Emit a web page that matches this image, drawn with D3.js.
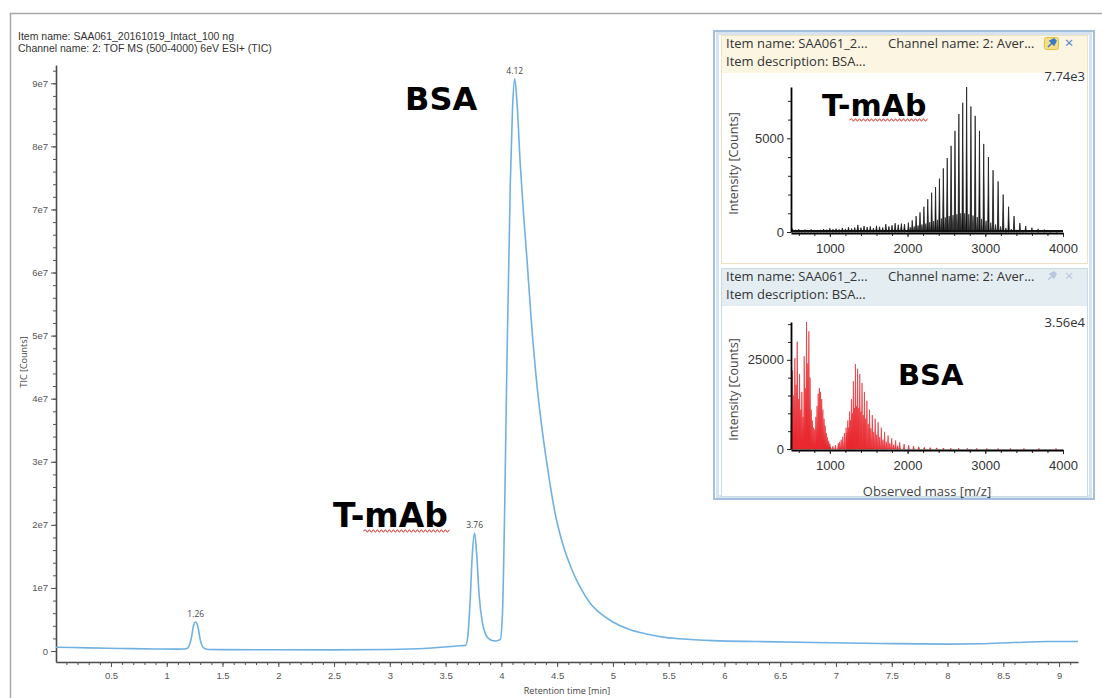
<!DOCTYPE html>
<html>
<head>
<meta charset="utf-8">
<script src="https://cdn.jsdelivr.net/npm/d3@7"></script>
<style>
  body { margin: 0; background: #fff; }
  svg { display: block; font-family: "Open Sans", "Noto Sans", sans-serif; }
</style>
</head>
<body>
<div id="chart"></div>
<script>
// ---- TIC chromatogram ----
var ticTime = [0.007, 0.3, 0.6, 0.9, 1.1, 1.16, 1.19, 1.22, 1.24, 1.26, 1.28, 1.30, 1.33, 1.37, 1.5,
  2.0, 2.5, 3.0, 3.3, 3.6, 3.68, 3.70, 3.72, 3.74, 3.76, 3.78, 3.80, 3.83, 3.86, 3.90,
  3.95, 3.99, 4.01, 4.03, 4.05, 4.08, 4.10, 4.12, 4.14, 4.17, 4.20, 4.23, 4.27, 4.32, 4.37,
  4.41, 4.48, 4.55, 4.63, 4.71, 4.80, 4.90, 5.00, 5.15, 5.30, 5.45, 5.6, 5.9, 6.3, 6.8,
  7.4, 8.0, 8.3, 8.6, 8.9, 9.17];
var ticCounts = [6e5, 5e5, 4e5, 3.3e5, 3e5, 3.2e5, 5e5, 2e6, 4e6, 4.6e6, 3.8e6, 1.8e6, 5e5, 2.5e5, 2.2e5,
  2e5, 1.8e5, 2.5e5, 4e5, 8e5, 9e5, 2.5e6, 8e6, 1.55e7, 1.87e7, 1.5e7, 9e6, 4.5e6, 2.6e6, 1.8e6,
  1.6e6, 1.8e6, 6e6, 2.3e7, 4.6e7, 7.4e7, 8.6e7, 9.07e7, 8.7e7, 7.7e7, 6.9e7, 6.2e7, 5.2e7, 4.2e7, 3.45e7,
  2.95e7, 2.2e7, 1.7e7, 1.3e7, 1e7, 7.5e6, 5.8e6, 4.6e6, 3.4e6, 2.7e6, 2.2e6, 1.95e6, 1.65e6, 1.5e6, 1.35e6,
  1.2e6, 1.1e6, 1.15e6, 1.35e6, 1.5e6, 1.5e6];
var peakTimes = [1.26, 3.76, 4.12];
var peakLabels = ["1.26", "3.76", "4.12"];
var ticXTicks = [0.5, 1, 1.5, 2, 2.5, 3, 3.5, 4, 4.5, 5, 5.5, 6, 6.5, 7, 7.5, 8, 8.5, 9];
var ticXLabels = ["0.5", "1", "1.5", "2", "2.5", "3", "3.5", "4", "4.5", "5", "5.5", "6", "6.5", "7",
  "7.5", "8", "8.5", "9"];
var ticYTicks = [0, 1e7, 2e7, 3e7, 4e7, 5e7, 6e7, 7e7, 8e7, 9e7];
var ticYLabels = ["0", "1e7", "2e7", "3e7", "4e7", "5e7", "6e7", "7e7", "8e7", "9e7"];

// ---- T-mAb spectrum (black) ----
var tmabMz = [2010, 2060, 2110, 2160, 2210, 2260, 2310, 2360, 2410, 2460, 2510, 2560, 2610, 2660, 2710,
  2760, 2815, 2870, 2925, 2980, 3040, 3100, 3165, 3230, 3300, 3370, 3445, 3520, 3600, 3680, 3760, 3840, 3920];
var tmabInt = [500, 620, 850, 1050, 1350, 1750, 2100, 2400, 2850, 3400, 3950, 4600, 5400, 6300, 6900,
  7740, 6700, 6200, 5400, 4700, 4000, 3300, 2700, 2000, 1350, 850, 480, 320, 230, 170, 130, 100, 80];
var tmabMinorMz = [2035, 2085, 2135, 2185, 2235, 2285, 2335, 2385, 2435, 2485, 2535, 2585, 2635, 2685,
  2735, 2788, 2842, 2897, 2952, 3010, 3070, 3132, 3197, 3265, 3335, 3408, 3482];
var tmabMinorInt = [250, 300, 350, 400, 450, 520, 580, 650, 720, 780, 850, 900, 950, 1000,
  1000, 950, 880, 800, 700, 600, 500, 400, 300, 220, 160, 120, 90];
var tmabNoiseMz = [520, 560, 600, 640, 680, 720, 760, 800, 840, 880, 920, 960, 1000, 1040, 1080, 1120, 1160,
  1200, 1240, 1280, 1320, 1360, 1400, 1440, 1480, 1520, 1560, 1600, 1640, 1680, 1720, 1760, 1800, 1840,
  1880, 1920, 1960];
var tmabNoiseInt = [180, 120, 150, 90, 130, 100, 140, 110, 90, 120, 160, 130, 200, 150, 180, 140, 220,
  170, 260, 190, 240, 380, 230, 320, 260, 300, 210, 330, 280, 240, 420, 300, 360, 470, 390, 450, 420];

// ---- BSA spectrum (red) ----
var bsaLowMz = [505, 520, 535, 550, 565, 580, 595, 610, 625, 640, 655, 670, 685, 700, 715, 730, 745, 760,
  775, 790, 805, 820, 835, 850, 865, 880, 895, 910, 925, 940, 955, 970, 985, 1000];
var bsaLowInt = [12000, 22000, 15000, 25500, 18000, 30100, 14000, 21000, 11000, 16000, 9000, 26000, 17000,
  35600, 24000, 33000, 20000, 11000, 8000, 6000, 5500, 9000, 12000, 15500, 17100, 16000, 14000, 11000, 8500,
  6500, 4500, 3200, 2200, 1500];
var bsaMz = [1007, 1039, 1072, 1108, 1127, 1146, 1166, 1187, 1209, 1231, 1254, 1278, 1303, 1329, 1357,
  1385, 1414, 1445, 1477, 1511, 1546, 1583, 1621, 1662, 1704, 1749, 1796, 1846, 1899, 1955, 2014, 2077,
  2144, 2215, 2292, 2374, 2461, 2556, 2658, 2769, 2889, 3020, 3164, 3323, 3497, 3691, 3909];
var bsaInt = [600, 800, 1100, 1600, 2000, 2600, 3400, 4500, 6000, 8000, 10500, 14000, 19000, 23800, 22500,
  21000, 18500, 16000, 13500, 11000, 9500, 8500, 7500, 6000, 4800, 3800, 3000, 2400, 1900, 1400, 1100, 850,
  650, 500, 400, 320, 260, 210, 170, 140, 110, 90, 80, 70, 60, 50, 40];
var bsaMinorMz = [1220, 1243, 1266, 1290, 1316, 1343, 1371, 1400, 1430, 1461, 1494, 1528, 1565, 1602,
  1641, 1683, 1726, 1772, 1821, 1872];
var bsaMinorInt = [4500, 6000, 8000, 10000, 11500, 12000, 11500, 10500, 9500, 8500, 7000, 5800, 4800, 4000,
  3300, 2600, 2000, 1600, 1200, 900];

var mzTicks = [1000, 2000, 3000, 4000];
var mzLabels = ["1000", "2000", "3000", "4000"];

var width = 1102, height = 698;
var svg = d3.select("#chart").append("svg").attr("width", width).attr("height", height);

// outer frame of the viewer
svg.append("path")
  .attr("d", "M10.5," + height + "V13.5H" + width)
  .attr("fill", "none").attr("stroke", "#a9a9a9").attr("stroke-width", 1.5);

svg.append("text").attr("x", 18).attr("y", 39.5).attr("font-size", 10.5).attr("fill", "#333")
  .attr("font-family", "Liberation Sans, Arial, sans-serif")
  .text("Item name: SAA061_20161019_Intact_100 ng");
svg.append("text").attr("x", 18).attr("y", 51.5).attr("font-size", 10.5).attr("fill", "#333")
  .attr("font-family", "Liberation Sans, Arial, sans-serif")
  .text("Channel name: 2: TOF MS (500-4000) 6eV ESI+ (TIC)");

// ---- main chromatogram ----
var x = d3.scaleLinear().domain([0.007, 9.17]).range([56, 1078]);
var y = d3.scaleLinear().domain([-1.74e6, 9.29e7]).range([662, 65]);

// minor and major ticks each get their own group, otherwise the second call rebinds the first
function axisPair(parent, transform, minorAxis, majorAxis) {
  var gMinor = parent.append("g").attr("transform", transform).call(minorAxis);
  var gMajor = parent.append("g").attr("transform", transform).call(majorAxis);
  gMinor.select(".domain").remove();
  return [gMinor, gMajor];
}

var xAxes = axisPair(svg, "translate(0," + y.range()[0] + ")",
  d3.axisBottom(x).tickValues(d3.range(0.1, 9.15, 0.1)).tickSize(3).tickSizeOuter(0).tickFormat(""),
  d3.axisBottom(x).tickValues(ticXTicks).tickSize(5).tickSizeOuter(0).tickPadding(5)
    .tickFormat(function (d, i) { return ticXLabels[i]; }));
var yAxes = axisPair(svg, "translate(" + x.range()[0] + ",0)",
  d3.axisLeft(y).tickValues(d3.range(0, 9.25e7, 2e6)).tickSize(3).tickSizeOuter(0).tickFormat(""),
  d3.axisLeft(y).tickValues(ticYTicks).tickSize(5).tickSizeOuter(0).tickPadding(3)
    .tickFormat(function (d, i) { return ticYLabels[i]; }));
xAxes.concat(yAxes).forEach(function (g) {
  g.selectAll(".domain").attr("stroke", "#4a4a4a").attr("stroke-width", 1.6);
  g.selectAll(".tick line").attr("stroke", "#555");
  g.selectAll("text").attr("font-size", 9.5).attr("fill", "#555").attr("font-family", null);
});

svg.append("text")
  .attr("x", (x.range()[0] + x.range()[1]) / 2).attr("y", 694)
  .attr("text-anchor", "middle").attr("font-size", 9).attr("fill", "#444")
  .text("Retention time [min]");
svg.append("text")
  .attr("transform", "translate(27,362) rotate(-90)")
  .attr("text-anchor", "middle").attr("font-size", 9).attr("fill", "#444")
  .text("TIC [Counts]");

var ticData = ticTime.map(function (t, i) { return { t: t, v: ticCounts[i] }; });
svg.append("path")
  .datum(ticData)
  .attr("fill", "none").attr("stroke", "#70b1e2").attr("stroke-width", 1.6)
  .attr("d", d3.line().x(function (d) { return x(d.t); }).y(function (d) { return y(d.v); })
    .curve(d3.curveMonotoneX));

svg.selectAll(".peak-label").data(peakTimes).enter().append("text")
  .attr("class", "peak-label")
  .attr("x", function (t) { return x(t); })
  .attr("y", function (t) { return y(ticCounts[ticTime.indexOf(t)]) - 5; })
  .attr("text-anchor", "middle").attr("font-size", 8.5).attr("fill", "#444")
  .text(function (t, i) { return peakLabels[i]; });

// big annotations with spell-check squiggle
function squiggle(x0, x1, yy) {
  var p = "M" + x0 + "," + yy, up = true;
  for (var xx = x0 + 2; xx <= x1; xx += 2) { p += "L" + xx + "," + (yy + (up ? -1.3 : 1.3)); up = !up; }
  return p;
}
function bigLabel(str, px, py, size, underlineFrom) {
  var t = svg.append("text").attr("x", px).attr("y", py)
    .attr("font-family", "DejaVu Sans, Verdana, sans-serif").attr("font-weight", "bold")
    .attr("font-size", size).attr("fill", "#000").text(str);
  if (underlineFrom != null) {
    var node = t.node();
    var a = node.getStartPositionOfChar(underlineFrom).x;
    var b = node.getEndPositionOfChar(str.length - 1).x;
    svg.append("path").attr("d", squiggle(a - 1, b + 3, py + 4))
      .attr("fill", "none").attr("stroke", "#e0302c").attr("stroke-width", 1);
  }
}
bigLabel("BSA", 405, 110, 32, null);
bigLabel("T-mAb", 333, 527, 33, 2);

// ---- inset with two mass spectra ----
var inset = svg.append("g");
inset.append("rect").attr("x", 714).attr("y", 31).attr("width", 380).attr("height", 468)
  .attr("fill", "#fff").attr("stroke", "#a5bfdc").attr("stroke-width", 2);
inset.append("rect").attr("x", 717.5).attr("y", 33.5).attr("width", 373).attr("height", 463)
  .attr("fill", "none").attr("stroke", "#d6e3f1").attr("stroke-width", 3);

var panels = [
  { top: 35, head: "#fcf5e2", border: "#efe2c2", bottom: 263, pin: true },
  { top: 268, head: "#e4eef2", border: "#c9dbe6", bottom: 496, pin: false }
];
panels.forEach(function (p) {
  inset.append("rect").attr("x", 721.5).attr("y", p.top + 0.5).attr("width", 366).attr("height", p.bottom - p.top)
    .attr("fill", "#fff").attr("stroke", p.border);
  inset.append("rect").attr("x", 722).attr("y", p.top + 1).attr("width", 365).attr("height", 37)
    .attr("fill", p.head);
  inset.append("text").attr("x", 726).attr("y", p.top + 13).attr("font-size", 13).attr("fill", "#333")
    .text("Item name: SAA061_2...");
  inset.append("text").attr("x", 888).attr("y", p.top + 13).attr("font-size", 13).attr("fill", "#333")
    .text("Channel name: 2: Aver...");
  inset.append("text").attr("x", 726).attr("y", p.top + 31).attr("font-size", 13).attr("fill", "#333")
    .text("Item description: BSA...");
  // pin + close icons
  if (p.pin) {
    inset.append("rect").attr("x", 1044.5).attr("y", p.top + 2.5).attr("width", 14).attr("height", 12).attr("rx", 2)
      .attr("fill", "#f6de85").attr("stroke", "#e3bf45");
  }
  inset.append("path")
    .attr("d", "M1048," + (p.top + 12) + "L1052," + (p.top + 8) + "M1050," + (p.top + 6) + "L1054," + (p.top + 10) +
      "L1056," + (p.top + 6) + "L1054," + (p.top + 4) + "Z")
    .attr("fill", p.pin ? "#3a78c8" : "#b8c8dc").attr("stroke", p.pin ? "#3a78c8" : "#b8c8dc").attr("stroke-width", 1.5);
  inset.append("text").attr("x", 1069).attr("y", p.top + 13).attr("text-anchor", "middle")
    .attr("font-size", 15).attr("fill", p.pin ? "#4a80c8" : "#b8c8dc").text("\u00d7");
});

var mzX = d3.scaleLinear().domain([500, 4000]).range([791, 1063]);
var tmabY = d3.scaleLinear().domain([0, 7740]).range([232, 87]);
var bsaY = d3.scaleLinear().domain([0, 35600]).range([449, 322]);

function spikes(g, ys, mz, ints, halfW, color, opacity) {
  g.append("path")
    .attr("d", mz.map(function (m, i) {
      return "M" + mzX(m - halfW) + "," + ys(0) + "L" + mzX(m) + "," + ys(ints[i]) + "L" + mzX(m + halfW) + "," + ys(0) + "Z";
    }).join(""))
    .attr("fill", color).attr("stroke", color).attr("stroke-width", 0.7).attr("stroke-opacity", opacity)
    .attr("fill-opacity", opacity);
}

function spectrumAxes(ys, yMajor, yMinor, maxLabel, plotTop) {
  var g = inset.append("g");
  var xa = axisPair(g, "translate(0," + (ys(0) + 1) + ")",
    d3.axisBottom(mzX).tickValues(d3.range(600, 4000, 200)).tickSize(3).tickSizeOuter(0).tickFormat(""),
    d3.axisBottom(mzX).tickValues(mzTicks).tickSize(4).tickSizeOuter(0).tickPadding(7)
      .tickFormat(function (d, i) { return mzLabels[i]; }));
  var ya = axisPair(g, "translate(" + mzX(500) + ",0)",
    d3.axisLeft(ys).tickValues(yMinor).tickSize(3).tickSizeOuter(0).tickFormat(""),
    d3.axisLeft(ys).tickValues(yMajor).tickSize(4).tickSizeOuter(0).tickPadding(3).tickFormat(d3.format("d")));
  xa.concat(ya).forEach(function (a) {
    a.selectAll(".domain").attr("stroke", "#000").attr("stroke-width", 1.8);
    a.selectAll(".tick line").attr("stroke", "#222");
    a.selectAll("text").attr("font-size", 13).attr("fill", "#333").attr("font-family", null);
  });
  g.append("text").attr("x", 1085).attr("y", plotTop + 11).attr("text-anchor", "end")
    .attr("font-size", 13).attr("fill", "#333").text(maxLabel);
  var mid = (ys.range()[0] + ys.range()[1]) / 2;
  g.append("text").attr("transform", "translate(738," + (mid + 4) + ") rotate(-90)")
    .attr("text-anchor", "middle").attr("font-size", 12.5).attr("fill", "#444").text("Intensity [Counts]");
  return g;
}

// T-mAb panel
var gT = inset.append("g");
spikes(gT, tmabY, tmabNoiseMz, tmabNoiseInt, 12, "#111", 1);
spikes(gT, tmabY, tmabMinorMz, tmabMinorInt, 12, "#222", 1);
spikes(gT, tmabY, tmabMz, tmabInt, 10, "#111", 1);
gT.append("line").attr("x1", mzX(500)).attr("x2", mzX(4000)).attr("y1", tmabY(60)).attr("y2", tmabY(60))
  .attr("stroke", "#111").attr("stroke-width", 2);
spectrumAxes(tmabY, [0, 5000], [1000, 2000, 3000, 4000, 6000, 7000], "7.74e3", 70);

// BSA panel
var gB = inset.append("g");
spikes(gB, bsaY, bsaLowMz, bsaLowInt, 9, "#e8242b", 0.9);
spikes(gB, bsaY, bsaMinorMz, bsaMinorInt, 9, "#e8242b", 0.9);
spikes(gB, bsaY, bsaMz, bsaInt, 9, "#e8242b", 0.85);
spectrumAxes(bsaY, [0, 25000], [5000, 10000, 15000, 20000, 30000, 35000], "3.56e4", 316);
inset.append("text").attr("x", mzX(2250)).attr("y", 496).attr("text-anchor", "middle")
  .attr("font-size", 13).attr("fill", "#444").text("Observed mass [m/z]");

bigLabel("T-mAb", 822, 116, 30, 2);
bigLabel("BSA", 898, 385, 29, null);
</script>
</body>
</html>
